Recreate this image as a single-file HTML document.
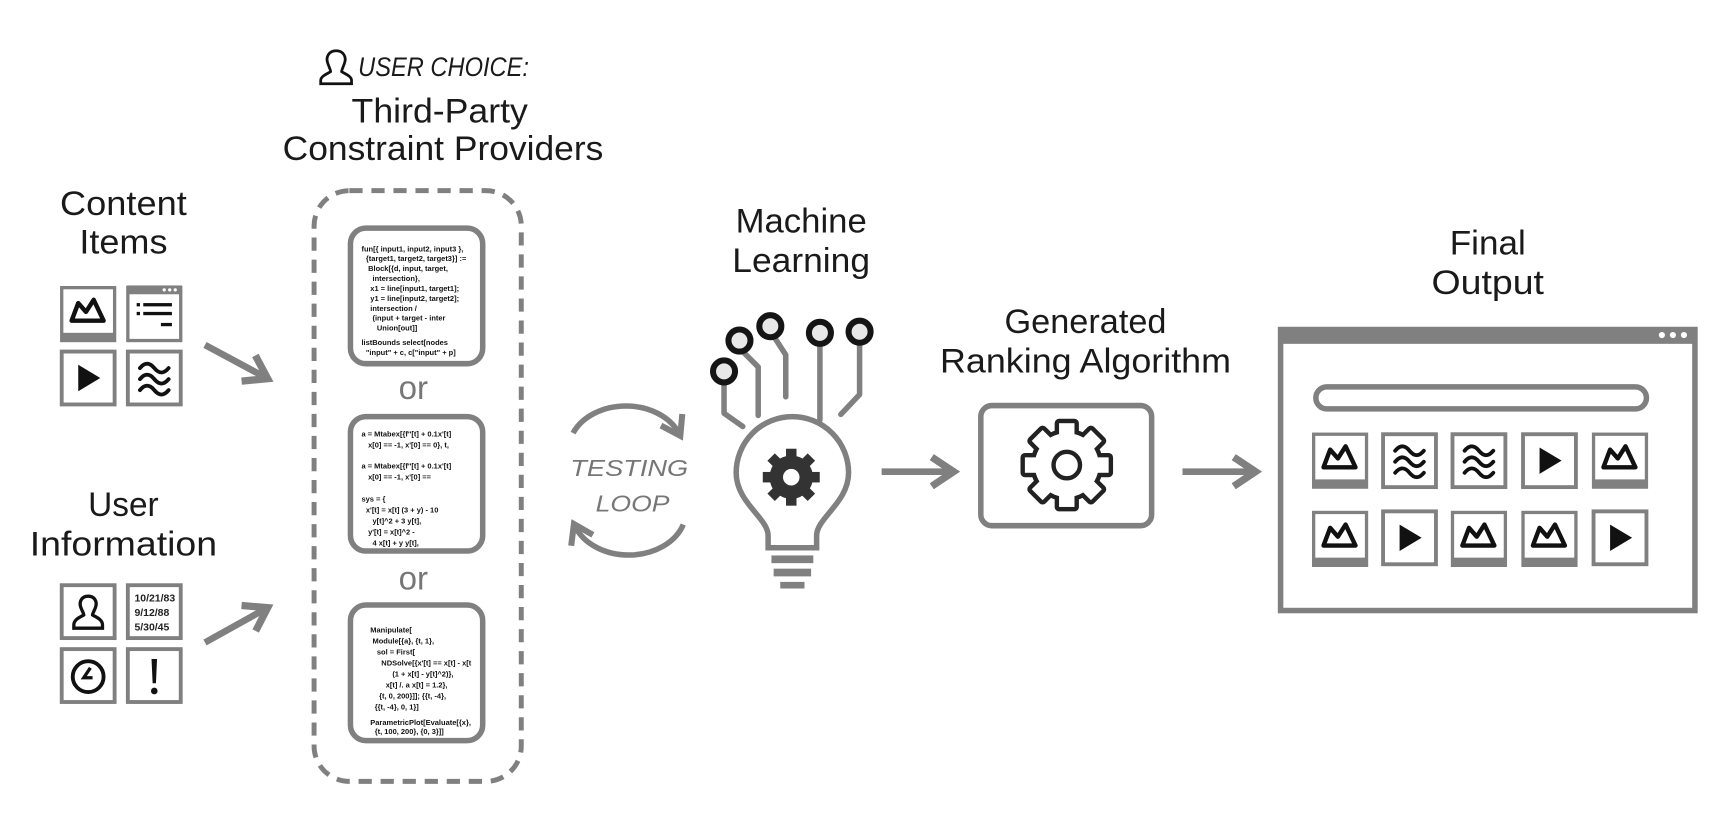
<!DOCTYPE html>
<html><head><meta charset="utf-8"><style>
html,body{margin:0;padding:0;background:#fff;}
svg{display:block;}
text{font-family:"Liberation Sans",sans-serif;}
</style></head><body>
<svg width="1728" height="826" viewBox="0 0 1568 749.5" xmlns="http://www.w3.org/2000/svg">
<defs>
  <g id="mtn"><path d="M-15 9 L-9 -7 L-2 1 L5 -10 L14 9 Z" fill="none" stroke="#111" stroke-width="4" stroke-linejoin="round"/></g>
  <g id="imgtile"><rect x="-24" y="-24" width="48" height="48" fill="#fff" stroke="#808080" stroke-width="3"/><rect x="-25" y="17" width="50" height="8" fill="#808080"/><use href="#mtn" y="-3"/></g>
  <g id="playtile"><rect x="-24" y="-24" width="48" height="48" fill="#fff" stroke="#808080" stroke-width="3.5"/><path d="M-9 -12 L11 0 L-9 12 Z" fill="#111"/></g>
  <g id="waves" fill="none" stroke="#111" stroke-width="3.5" stroke-linecap="round"><path d="M-13 -9 q6.5 -8 13 0 t13 0"/><path d="M-13 1 q6.5 -8 13 0 t13 0"/><path d="M-13 11 q6.5 -8 13 0 t13 0"/></g>
  <g id="wavetile"><rect x="-24" y="-24" width="48" height="48" fill="#fff" stroke="#808080" stroke-width="3.5"/><use href="#waves" y="0"/></g>
  <marker id="ah" viewBox="0 0 10 10" refX="6" refY="5" markerWidth="5.5" markerHeight="5.5" orient="auto"><path d="M1 1 L7 5 L1 9" fill="none" stroke="#808080" stroke-width="2"/></marker>
  <g id="gearshape"><rect x="-7" y="-38" width="14" height="14" transform="rotate(0)"/><rect x="-7" y="-38" width="14" height="14" transform="rotate(45)"/><rect x="-7" y="-38" width="14" height="14" transform="rotate(90)"/><rect x="-7" y="-38" width="14" height="14" transform="rotate(135)"/><rect x="-7" y="-38" width="14" height="14" transform="rotate(180)"/><rect x="-7" y="-38" width="14" height="14" transform="rotate(225)"/><rect x="-7" y="-38" width="14" height="14" transform="rotate(270)"/><rect x="-7" y="-38" width="14" height="14" transform="rotate(315)"/><circle r="29"/></g>
</defs>

<!-- Content Items -->
<text x="112" y="195" font-size="31" fill="#1a1a1a" text-anchor="middle" textLength="115" lengthAdjust="spacingAndGlyphs">Content</text>
<text x="112" y="230" font-size="31" fill="#1a1a1a" text-anchor="middle" textLength="80" lengthAdjust="spacingAndGlyphs">Items</text>
<use href="#imgtile" x="80" y="285"/>
<g><rect x="116" y="261" width="48" height="48" fill="#fff" stroke="#808080" stroke-width="3"/><rect x="115" y="259" width="50" height="8" fill="#808080"/>
<circle cx="149" cy="263" r="1.5" fill="#fff"/><circle cx="154" cy="263" r="1.5" fill="#fff"/><circle cx="159" cy="263" r="1.5" fill="#fff"/>
<rect x="124" y="275" width="3" height="3" fill="#111"/><rect x="130" y="275" width="26" height="3" fill="#111"/>
<rect x="124" y="283" width="3" height="3" fill="#111"/><rect x="130" y="283" width="26" height="3" fill="#111"/>
<rect x="146" y="293" width="10" height="3" fill="#111"/></g>
<use href="#playtile" x="80" y="343"/>
<use href="#wavetile" x="140" y="343"/>
<line x1="186" y1="313" x2="240" y2="342" stroke="#808080" stroke-width="6" marker-end="url(#ah)"/>

<!-- User Information -->
<text x="112" y="468" font-size="31" fill="#1a1a1a" text-anchor="middle" textLength="64" lengthAdjust="spacingAndGlyphs">User</text>
<text x="112" y="504" font-size="31" fill="#1a1a1a" text-anchor="middle" textLength="170" lengthAdjust="spacingAndGlyphs">Information</text>
<rect x="56" y="531" width="48" height="48" fill="#fff" stroke="#808080" stroke-width="3.5"/>
<path d="M80 541 c-6 0 -8 5 -7 9 c1 4 3 6 3 8 c-3 2 -9 4 -9 9 l0 3 l26 0 l0 -3 c0 -5 -6 -7 -9 -9 c0 -2 2 -4 3 -8 c1 -4 -1 -9 -7 -9 z" fill="none" stroke="#111" stroke-width="3"/>
<rect x="116" y="531" width="48" height="48" fill="#fff" stroke="#808080" stroke-width="3.5"/>
<text x="122" y="546" font-size="9.5" font-weight="bold" fill="#222">10/21/83</text>
<text x="122" y="559" font-size="9.5" font-weight="bold" fill="#222">9/12/88</text>
<text x="122" y="572" font-size="9.5" font-weight="bold" fill="#222">5/30/45</text>
<rect x="56" y="589" width="48" height="48" fill="#fff" stroke="#808080" stroke-width="3.5"/>
<circle cx="80" cy="614" r="14" fill="none" stroke="#111" stroke-width="3.5"/><path d="M82 606 L76 615 L84 615" fill="none" stroke="#111" stroke-width="3"/>
<rect x="116" y="589" width="48" height="48" fill="#fff" stroke="#808080" stroke-width="3.5"/>
<path d="M137.5 598 L142.5 598 L141.5 620 L138.5 620 Z" fill="#111"/><circle cx="140" cy="627" r="3" fill="#111"/>
<line x1="186" y1="583" x2="240" y2="553" stroke="#808080" stroke-width="6" marker-end="url(#ah)"/>

<!-- User choice -->
<path d="M305 46 c-7 0 -9 6 -8 10 c1 4 3 7 3 9 c-3 2 -9 4 -9 8 l0 3 l28 0 l0 -3 c0 -4 -6 -6 -9 -8 c0 -2 2 -5 3 -9 c1 -4 -1 -10 -8 -10 z" fill="none" stroke="#111" stroke-width="2.5"/>
<text x="325" y="69" font-size="24" font-style="italic" fill="#1a1a1a" textLength="155" lengthAdjust="spacingAndGlyphs">USER CHOICE:</text>
<text x="399" y="111" font-size="31" fill="#1a1a1a" text-anchor="middle" textLength="160" lengthAdjust="spacingAndGlyphs">Third-Party</text>
<text x="402" y="145" font-size="31" fill="#1a1a1a" text-anchor="middle" textLength="291" lengthAdjust="spacingAndGlyphs">Constraint Providers</text>

<rect x="285" y="173" width="188" height="536" rx="32" fill="none" stroke="#808080" stroke-width="4.5" stroke-dasharray="12 8"/>
<rect x="318" y="207" width="120" height="123" rx="14" fill="#fff" stroke="#808080" stroke-width="5"/>
<g font-size="6.8" font-weight="bold" fill="#111">
<text x="328" y="228">fun[{ input1, input2, input3 },</text>
<text x="332" y="237">{target1, target2, target3}] :=</text>
<text x="334" y="246">Block[{d, input, target,</text>
<text x="338" y="255">intersection},</text>
<text x="336" y="264">x1 = line[input1, target1];</text>
<text x="336" y="273">y1 = line[input2, target2];</text>
<text x="336" y="282">intersection /</text>
<text x="338" y="291">(input + target - inter</text>
<text x="342" y="300">Union[out]]</text>
<text x="328" y="313">listBounds select[nodes</text>
<text x="332" y="322">"input" + c, c["input" + p]</text>
</g>
<text x="375" y="362" font-size="30" fill="#777" text-anchor="middle">or</text>
<rect x="318" y="378" width="120" height="122" rx="14" fill="#fff" stroke="#808080" stroke-width="5"/>
<g font-size="6.8" font-weight="bold" fill="#111">
<text x="328" y="396">a = Mtabex[{f''[t] + 0.1x'[t]</text>
<text x="334" y="406">x[0] == -1, x'[0] == 0}, t,</text>
<text x="328" y="425">a = Mtabex[{f''[t] + 0.1x'[t]</text>
<text x="334" y="435">x[0] == -1, x'[0] ==</text>
<text x="328" y="455">sys = {</text>
<text x="332" y="465">x'[t] = x[t] (3 + y) - 10</text>
<text x="338" y="475">y[t]^2 + 3 y[t],</text>
<text x="334" y="485">y'[t] = x[t]^2 -</text>
<text x="338" y="495">4 x[t] + y y[t],</text>
</g>
<text x="375" y="535" font-size="30" fill="#777" text-anchor="middle">or</text>
<rect x="318" y="549" width="120" height="123" rx="14" fill="#fff" stroke="#808080" stroke-width="5"/>
<g font-size="6.8" font-weight="bold" fill="#111">
<text x="336" y="574">Manipulate[</text>
<text x="338" y="584">Module[{a}, {t, 1},</text>
<text x="342" y="594">sol = First[</text>
<text x="346" y="604">NDSolve[{x'[t] == x[t] - x[t</text>
<text x="356" y="614">(1 + x[t] - y[t]^2)},</text>
<text x="350" y="624">x[t] /. a x[t] = 1.2},</text>
<text x="344" y="634">{t, 0, 200}]]; {{t, -4},</text>
<text x="340" y="644">{{t, -4}, 0, 1}]</text>
<text x="336" y="658">ParametricPlot[Evaluate[{x},</text>
<text x="340" y="666">{t, 100, 200}, {0, 3}]]</text>
</g>

<!-- Testing loop -->
<path d="M520 393 A 52 40 0 0 1 616 393" fill="none" stroke="#808080" stroke-width="5" marker-end="url(#ah)"/>
<path d="M620 476 A 52 40 0 0 1 522 478" fill="none" stroke="#808080" stroke-width="5" marker-end="url(#ah)"/>
<text x="571" y="432" font-size="21" font-style="italic" fill="#777" text-anchor="middle" textLength="107" lengthAdjust="spacingAndGlyphs">TESTING</text>
<text x="574" y="464" font-size="21" font-style="italic" fill="#777" text-anchor="middle" textLength="67" lengthAdjust="spacingAndGlyphs">LOOP</text>

<!-- Machine learning -->
<text x="727" y="211" font-size="31" fill="#1a1a1a" text-anchor="middle" textLength="119" lengthAdjust="spacingAndGlyphs">Machine</text>
<text x="727" y="247" font-size="31" fill="#1a1a1a" text-anchor="middle" textLength="125" lengthAdjust="spacingAndGlyphs">Learning</text>
<g fill="none" stroke="#808080" stroke-width="5" stroke-linecap="round" stroke-linejoin="round">
<path d="M657 346 L657 375 L674 387"/>
<path d="M673 318 L688 333 L688 377"/>
<path d="M702 305 L713 322 L713 360"/>
<path d="M744 312 L744 381"/>
<path d="M780 310 L780 358 L763 376"/>
</g>
<g fill="#e8e8e8" stroke="#151515" stroke-width="5.5">
<circle cx="657" cy="337" r="10"/><circle cx="671" cy="309" r="10"/><circle cx="699" cy="296" r="10"/><circle cx="744" cy="302" r="10"/><circle cx="780" cy="301" r="10"/>
</g>
<path d="M697 497 L697 486 C697 470 668 456 668 429 A51 51 0 1 1 770 429 C770 456 741 470 741 486 L741 497 Z" fill="#fff" stroke="#808080" stroke-width="5"/>
<g fill="#808080"><rect x="700" y="504" width="38" height="7"/><rect x="702" y="516" width="34" height="7"/><rect x="708" y="528" width="22" height="6"/></g>
<g transform="translate(718 433) scale(0.68)" fill="#333"><use href="#gearshape"/></g>
<circle cx="718" cy="433" r="7.5" fill="#fff"/>
<line x1="800" y1="428" x2="862" y2="428" stroke="#808080" stroke-width="6" marker-end="url(#ah)"/>

<!-- Algorithm -->
<text x="985" y="302" font-size="31" fill="#1a1a1a" text-anchor="middle" textLength="147" lengthAdjust="spacingAndGlyphs">Generated</text>
<text x="985" y="338" font-size="31" fill="#1a1a1a" text-anchor="middle" textLength="264" lengthAdjust="spacingAndGlyphs">Ranking Algorithm</text>
<rect x="890" y="368" width="155" height="109" rx="10" fill="#fff" stroke="#808080" stroke-width="5"/>
<g transform="translate(968 422)">
<g stroke="#222" stroke-width="8" stroke-linejoin="round" fill="#222"><use href="#gearshape"/></g>
<g fill="#fff"><use href="#gearshape"/></g>
<circle r="12" fill="none" stroke="#222" stroke-width="4"/>
</g>
<line x1="1073" y1="428" x2="1136" y2="428" stroke="#808080" stroke-width="6" marker-end="url(#ah)"/>

<!-- Final output -->
<text x="1350" y="231" font-size="31" fill="#1a1a1a" text-anchor="middle" textLength="69" lengthAdjust="spacingAndGlyphs">Final</text>
<text x="1350" y="267" font-size="31" fill="#1a1a1a" text-anchor="middle" textLength="102" lengthAdjust="spacingAndGlyphs">Output</text>
<rect x="1162" y="299" width="376" height="255" fill="#fff" stroke="#808080" stroke-width="5"/>
<rect x="1160" y="297" width="380" height="15" fill="#808080"/>
<circle cx="1508" cy="304" r="2.8" fill="#fff"/><circle cx="1518" cy="304" r="2.8" fill="#fff"/><circle cx="1528" cy="304" r="2.8" fill="#fff"/>
<rect x="1194" y="351" width="300" height="20" rx="10" fill="none" stroke="#808080" stroke-width="5"/>
<use href="#imgtile" x="1216" y="418"/>
<use href="#wavetile" x="1279" y="418"/>
<use href="#wavetile" x="1342" y="418"/>
<use href="#playtile" x="1406" y="418"/>
<use href="#imgtile" x="1470" y="418"/>
<use href="#imgtile" x="1216" y="489"/>
<use href="#playtile" x="1279" y="488"/>
<use href="#imgtile" x="1342" y="489"/>
<use href="#imgtile" x="1406" y="489"/>
<use href="#playtile" x="1470" y="488"/>
</svg>
</body></html>
